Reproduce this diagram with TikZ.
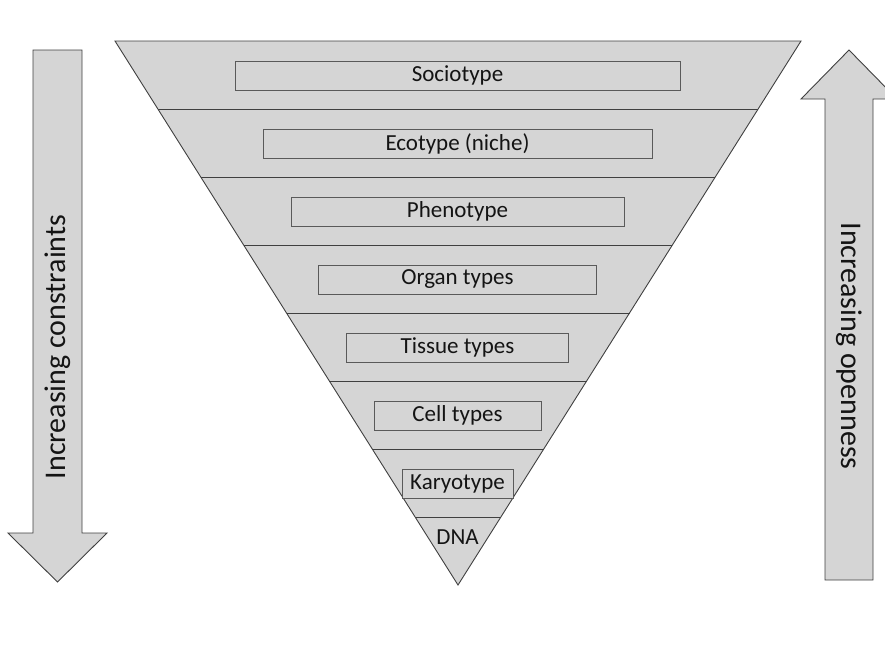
\documentclass[tikz,border=0pt]{standalone}
\usepackage{fontspec}
\setmainfont{Carlito}
\usetikzlibrary{calc}

\definecolor{bandfill}{RGB}{213,213,213}
\definecolor{edgegray}{RGB}{64,64,64}
\definecolor{boxedge}{RGB}{90,90,90}
\definecolor{inktext}{RGB}{20,20,20}

\tikzset{
  funnel/.style={draw=edgegray, fill=bandfill, line width=0.9pt, line join=miter},
  bandline/.style={draw=edgegray, line width=0.8pt},
  levelbox/.style={draw=boxedge, fill=bandfill, line width=0.8pt, minimum height=29pt,
    inner sep=0pt, text=inktext, font=\fontsize{23}{23}\selectfont},
  bigarrow/.style={draw=edgegray, fill=bandfill, line width=0.9pt},
  arrowlabel/.style={text=inktext, font=\fontsize{30}{30}\selectfont, inner sep=0pt}
}

\begin{document}
\begin{tikzpicture}[x=1pt,y=1pt,yscale=-1,xscale=1]
        \useasboundingbox (0,0) rectangle (885,651);

        %Funnel outline
        \coordinate (tl) at (115,41);
        \coordinate (tr) at (801,41);
        \coordinate (apex) at (458,585);
        \draw[funnel] (tl) -- (tr) -- (apex) -- cycle;

        %Band lines
        \foreach \k in {1,...,7}
          \draw[bandline] ($(tl)!\k/8!(apex)$) -- ($(tr)!\k/8!(apex)$);

        %Level boxes
        \foreach \name/\txt/\w [count=\i from 0] in {soc/Sociotype/445, eco/{Ecotype (niche)}/389,
            phe/Phenotype/333, org/{Organ types}/278, tis/{Tissue types}/222,
            cel/{Cell types}/167, kar/Karyotype/111}
          \node[levelbox, minimum width=\w pt] (\name) at (457.5,{75.5+68*\i}) {\txt};

        % Text Node
        \node[text=inktext, font=\fontsize{23}{23}\selectfont] (dna) at (457.5,537) {DNA};

        %Down arrow
        \draw[bigarrow] (33,50) -- (82,50) -- (82,533) -- (107,533) -- (57.5,582)
          -- (8,533) -- (33,533) -- cycle;
        % Text Node
        \node[arrowlabel, rotate=90] (constraints) at (57.5,347) {Increasing constraints};

        %Up arrow
        \draw[bigarrow] (825,580) -- (873,580) -- (873,99) -- (897,99) -- (849,50)
          -- (801,99) -- (825,99) -- cycle;
        % Text Node
        \node[arrowlabel, rotate=-90] (openness) at (849,346) {Increasing openness};

\end{tikzpicture}
\end{document}
